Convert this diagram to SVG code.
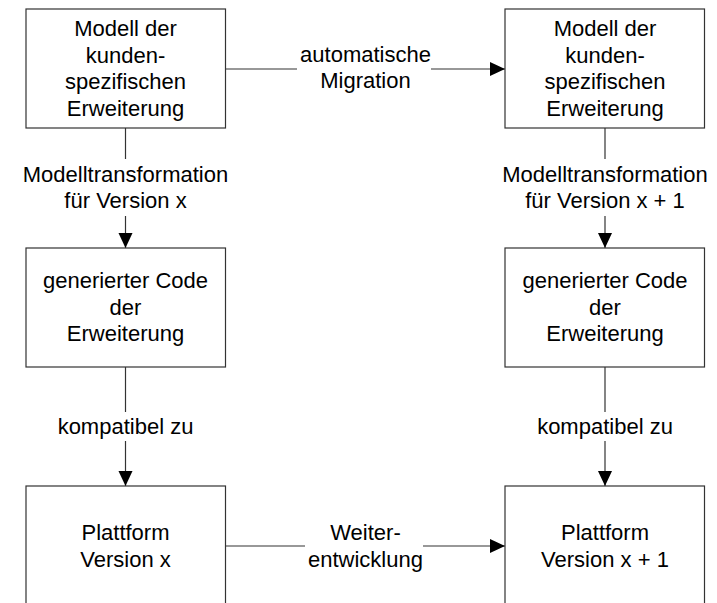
<svg xmlns="http://www.w3.org/2000/svg" width="717" height="603" viewBox="0 0 717 603">
<defs>
<style>
.box{fill:#fff;stroke:#333;stroke-width:1.2}
.t{font-family:"Liberation Sans",Arial,sans-serif;font-size:22px;fill:#000;text-anchor:middle}
.c{stroke:#333;stroke-width:1.2;fill:none}
</style>
<marker id="ah" markerUnits="userSpaceOnUse" markerWidth="16" markerHeight="16" viewBox="0 0 16 16" refX="15" refY="8" orient="auto">
<path d="M0,1 L15,8 L0,15 Z" fill="#000"/>
</marker>
</defs>
<rect width="717" height="603" fill="#fff"/>
<g id="connectors">
<line class="c" x1="225.5" y1="69" x2="297" y2="69"/>
<line class="c" x1="431" y1="69" x2="505" y2="69" marker-end="url(#ah)"/>
<line class="c" x1="125.5" y1="128" x2="125.5" y2="159"/>
<line class="c" x1="125.5" y1="216" x2="125.5" y2="248" marker-end="url(#ah)"/>
<line class="c" x1="605" y1="128" x2="605" y2="159"/>
<line class="c" x1="605" y1="216" x2="605" y2="248" marker-end="url(#ah)"/>
<line class="c" x1="125.5" y1="367" x2="125.5" y2="412"/>
<line class="c" x1="125.5" y1="441" x2="125.5" y2="486" marker-end="url(#ah)"/>
<line class="c" x1="605" y1="367" x2="605" y2="412"/>
<line class="c" x1="605" y1="441" x2="605" y2="486" marker-end="url(#ah)"/>
<line class="c" x1="225.5" y1="546" x2="305" y2="546"/>
<line class="c" x1="423" y1="546" x2="505" y2="546" marker-end="url(#ah)"/>
<text class="t" x="365.5" y="62">automatische</text>
<text class="t" x="365.5" y="88">Migration</text>
<text class="t" x="125.5" y="182">Modelltransformation</text>
<text class="t" x="125.5" y="208">für Version x</text>
<text class="t" x="605" y="182">Modelltransformation</text>
<text class="t" x="605" y="208">für Version x + 1</text>
<text class="t" x="125.5" y="434">kompatibel zu</text>
<text class="t" x="605" y="434">kompatibel zu</text>
<text class="t" x="365.5" y="540">Weiter-</text>
<text class="t" x="365.5" y="567">entwicklung</text>
</g>
<g id="model-x">
<rect class="box" x="26" y="9" width="199.5" height="119"/>
<text class="t" x="125.5" y="36">Modell der</text>
<text class="t" x="125.5" y="62.5">kunden-</text>
<text class="t" x="125.5" y="89">spezifischen</text>
<text class="t" x="125.5" y="115.5">Erweiterung</text>
</g>
<g id="model-x1">
<rect class="box" x="505" y="9" width="199.5" height="119"/>
<text class="t" x="605" y="36">Modell der</text>
<text class="t" x="605" y="62.5">kunden-</text>
<text class="t" x="605" y="89">spezifischen</text>
<text class="t" x="605" y="115.5">Erweiterung</text>
</g>
<g id="code-x">
<rect class="box" x="26" y="248" width="199.5" height="119"/>
<text class="t" x="125.5" y="288">generierter Code</text>
<text class="t" x="125.5" y="314.5">der</text>
<text class="t" x="125.5" y="341">Erweiterung</text>
</g>
<g id="code-x1">
<rect class="box" x="505" y="248" width="199.5" height="119"/>
<text class="t" x="605" y="288">generierter Code</text>
<text class="t" x="605" y="314.5">der</text>
<text class="t" x="605" y="341">Erweiterung</text>
</g>
<g id="platform-x">
<rect class="box" x="26" y="486" width="199.5" height="119"/>
<text class="t" x="125.5" y="540">Plattform</text>
<text class="t" x="125.5" y="566.5">Version x</text>
</g>
<g id="platform-x1">
<rect class="box" x="505" y="486" width="199.5" height="119"/>
<text class="t" x="605" y="540">Plattform</text>
<text class="t" x="605" y="566.5">Version x + 1</text>
</g>
</svg>
